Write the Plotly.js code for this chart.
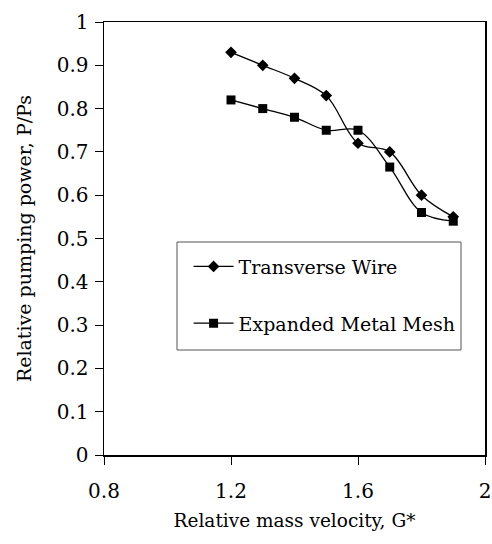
<!DOCTYPE html>
<html>
<head>
<meta charset="utf-8">
<script src="https://cdn.plot.ly/plotly-3.0.1.min.js"></script>
<style>html,body{margin:0;padding:0;background:#fff;}#chart{width:492px;height:544px;}</style>
</head>
<body>
<div id="chart"></div>
<script>
var gStar = [1.2, 1.3, 1.4, 1.5, 1.6, 1.7, 1.8, 1.9];
var transverseWire = [0.93, 0.90, 0.87, 0.83, 0.72, 0.70, 0.60, 0.55];
var expandedMesh = [0.82, 0.80, 0.78, 0.75, 0.75, 0.665, 0.56, 0.54];
var seriesNames = ['Transverse Wire', 'Expanded Metal Mesh'];
var xTicks = [0.8, 1.2, 1.6, 2];
var xTickLabels = ['0.8', '1.2', '1.6', '2'];
var yTicks = [0, 0.1, 0.2, 0.3, 0.4, 0.5, 0.6, 0.7, 0.8, 0.9, 1];
var yTickLabels = ['0', '0.1', '0.2', '0.3', '0.4', '0.5', '0.6', '0.7', '0.8', '0.9', '1'];

var font = '"DejaVu Serif", serif';

var traces = [
  {x: gStar, y: transverseWire, name: seriesNames[0], mode: 'lines+markers', type: 'scatter',
   legendgroup: 'a',
   line: {color: '#000', width: 1.3, shape: 'spline', smoothing: 1},
   marker: {symbol: 'diamond', size: 9, color: '#000'}},
  {x: gStar, y: expandedMesh, name: seriesNames[1], mode: 'lines+markers', type: 'scatter',
   legendgroup: 'b',
   line: {color: '#000', width: 1.3, shape: 'spline', smoothing: 1},
   marker: {symbol: 'square', size: 9, color: '#000'}}
];

var layout = {
  width: 492, height: 544,
  margin: {l: 104, r: 7, t: 22, b: 89, pad: 0},
  paper_bgcolor: '#fff', plot_bgcolor: '#fff',
  font: {family: font, color: '#000', size: 19},
  showlegend: true,
  legend: {
    x: 0.222, xanchor: 'left', y: 0.479, yanchor: 'top',
    bgcolor: 'rgba(0,0,0,0)', borderwidth: 0,
    font: {family: font, size: 19, color: '#000'},
    traceorder: 'grouped', tracegroupgap: 29, itemwidth: 40
  },
  shapes: [
    {type: 'rect', xref: 'paper', yref: 'paper',
     x0: (177 - 104) / 381, x1: (461 - 104) / 381,
     y0: (455 - 350) / 433, y1: (455 - 242) / 433,
     line: {color: '#555', width: 1}, fillcolor: 'rgba(0,0,0,0)', layer: 'above'}
  ],
  xaxis: {
    range: [0.8, 2], tickmode: 'array', tickvals: xTicks, ticktext: xTickLabels,
    showgrid: false, zeroline: false, showline: true, linecolor: '#000', linewidth: 1.5,
    mirror: true, ticks: 'outside', ticklen: 8, tickwidth: 1, tickcolor: '#000',
    tickfont: {family: font, size: 20, color: '#000'}, ticklabelstandoff: 9,
    title: {text: 'Relative mass velocity, G*', font: {family: font, size: 18.5, color: '#000'}, standoff: 12},
    automargin: false, fixedrange: true
  },
  yaxis: {
    range: [0, 1], tickmode: 'array', tickvals: yTicks, ticktext: yTickLabels,
    showgrid: false, zeroline: false, showline: true, linecolor: '#000', linewidth: 1.5,
    mirror: true, ticks: 'outside', ticklen: 8, tickwidth: 1, tickcolor: '#000',
    tickfont: {family: font, size: 20, color: '#000'}, ticklabelstandoff: 2,
    title: {text: 'Relative pumping power, P/Ps', font: {family: font, size: 19, color: '#000'}, standoff: 20},
    automargin: false, fixedrange: true
  }
};

Plotly.newPlot('chart', traces, layout, {displayModeBar: false, staticPlot: true});
</script>
</body>
</html>
